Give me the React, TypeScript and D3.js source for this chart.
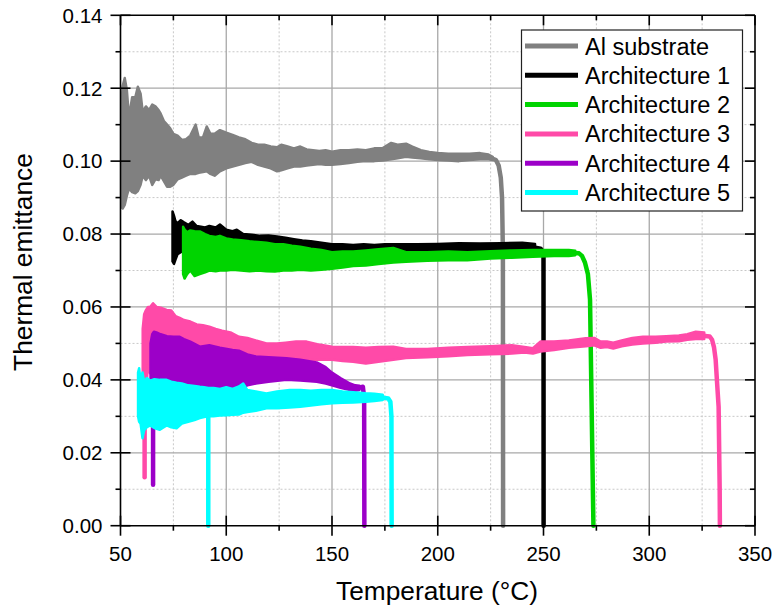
import React from "react";
import * as d3 from "d3";

// Noisy part of each measurement: [temperature °C, lower edge, upper edge]
const alSubstrateBand: [number, number, number][] = [
  [50.3, 0.0875, 0.114], [51.0, 0.087, 0.1205], [52.0, 0.088, 0.1228], [53.0, 0.0905, 0.1195],
  [54.0, 0.0925, 0.112], [55.5, 0.0915, 0.1175], [57.0, 0.0912, 0.1175], [58.2, 0.0918, 0.1204],
  [59.5, 0.0935, 0.1185], [60.5, 0.096, 0.1135], [62.0, 0.0948, 0.115], [63.5, 0.096, 0.114],
  [65.0, 0.0935, 0.1155], [66.5, 0.095, 0.115], [68.0, 0.0948, 0.114], [69.0, 0.096, 0.113],
  [70.5, 0.0945, 0.111], [72.0, 0.093, 0.11], [73.5, 0.093, 0.109], [75.0, 0.0935, 0.1075],
  [77.0, 0.095, 0.107], [79.0, 0.0955, 0.1058], [81.0, 0.096, 0.106], [83.0, 0.0965, 0.107],
  [85.5, 0.0965, 0.11], [87.0, 0.0968, 0.1065], [89.0, 0.097, 0.1065], [90.8, 0.0972, 0.1095],
  [92.5, 0.0965, 0.1075], [94.5, 0.096, 0.1075], [97.0, 0.0972, 0.1085], [100, 0.098, 0.1078],
  [103, 0.0985, 0.1072], [106, 0.099, 0.1065], [109, 0.0995, 0.106], [112, 0.0998, 0.105],
  [115, 0.099, 0.1045], [118, 0.0985, 0.1045], [121, 0.098, 0.104], [124, 0.0972, 0.1038],
  [126, 0.0975, 0.1045], [129, 0.098, 0.104], [132, 0.0985, 0.1035], [135, 0.0985, 0.104],
  [138, 0.0988, 0.1032], [141, 0.099, 0.103], [144, 0.0992, 0.1028], [147, 0.099, 0.103],
  [150, 0.099, 0.1026], [154, 0.0992, 0.103], [158, 0.0995, 0.103], [162, 0.0998, 0.1032],
  [166, 0.1, 0.103], [170, 0.1, 0.1035], [174, 0.1002, 0.1036], [178, 0.1005, 0.105],
  [181, 0.1008, 0.1045], [185, 0.1012, 0.1048], [188, 0.101, 0.104], [192, 0.1008, 0.103],
  [196, 0.1005, 0.1025], [200, 0.1003, 0.1022], [205, 0.1002, 0.102], [210, 0.1, 0.102],
  [215, 0.1003, 0.102], [220, 0.1005, 0.1022], [224, 0.1005, 0.1018], [226, 0.1003, 0.1012],
];
// Single-valued stretches: [temperature °C, emittance]
const alSubstrateDrop: [number, number][] = [
  [225.5, 0.1008], [227.5, 0.1003], [228.8, 0.0988], [229.8, 0.0955], [230.4, 0.09],
  [230.8, 0.075], [230.9, 0],
];

const architecture1Band: [number, number, number][] = [
  [74.6, 0.0725, 0.0862], [75.3, 0.0718, 0.085], [76.0, 0.073, 0.0835], [77.0, 0.0745, 0.083],
  [78.5, 0.075, 0.0838], [80, 0.0755, 0.0832], [82, 0.0755, 0.0825], [84, 0.0758, 0.0834],
  [86, 0.076, 0.0822], [88, 0.076, 0.082], [90, 0.0762, 0.0818], [92, 0.076, 0.0822],
  [95, 0.076, 0.0818], [97, 0.0762, 0.0826], [100, 0.076, 0.0812], [103, 0.076, 0.0808],
  [105, 0.076, 0.0812], [108, 0.076, 0.08], [112, 0.0758, 0.0798], [116, 0.0755, 0.0795],
  [120, 0.0752, 0.0796], [124, 0.0752, 0.0793], [128, 0.0752, 0.079], [132, 0.075, 0.0786],
  [136, 0.0748, 0.0782], [140, 0.0748, 0.078], [145, 0.0746, 0.0776], [150, 0.0745, 0.0772],
  [155, 0.0744, 0.0772], [160, 0.0743, 0.077], [165, 0.0745, 0.0772], [170, 0.0745, 0.077],
  [175, 0.0746, 0.0772], [180, 0.0748, 0.0772], [190, 0.0748, 0.0772], [200, 0.0749, 0.0773],
  [210, 0.075, 0.0775], [220, 0.075, 0.0774], [230, 0.0751, 0.0775], [240, 0.0752, 0.0776],
  [246, 0.0752, 0.0773],
];
const architecture1Drop: [number, number][] = [
  [245.5, 0.0763], [248.6, 0.076], [249.6, 0.0752], [250.0, 0.074], [250.05, 0],
];

const architecture2Band: [number, number, number][] = [
  [79.6, 0.069, 0.082], [80.3, 0.0678, 0.0812], [81.5, 0.069, 0.0805], [83, 0.07, 0.081],
  [85, 0.0685, 0.0808], [87.5, 0.069, 0.0807], [90, 0.0695, 0.08], [92, 0.07, 0.0795],
  [95, 0.0698, 0.0792], [97, 0.07, 0.0795], [100, 0.07, 0.0788], [103, 0.0702, 0.0785],
  [107, 0.07, 0.0783], [111, 0.0698, 0.078], [115, 0.07, 0.0778], [119, 0.0698, 0.0776],
  [123, 0.0697, 0.0772], [127, 0.07, 0.0772], [131, 0.07, 0.0768], [135, 0.0702, 0.0765],
  [140, 0.07, 0.076], [145, 0.0702, 0.0756], [150, 0.0705, 0.075], [155, 0.0708, 0.0752],
  [160, 0.0712, 0.0752], [166, 0.0714, 0.0755], [172, 0.0718, 0.0758], [179, 0.0722, 0.0762],
  [185, 0.0724, 0.075], [195, 0.0727, 0.075], [205, 0.0728, 0.0752], [214, 0.0728, 0.075],
  [225, 0.0733, 0.0753], [235, 0.0735, 0.0755], [245, 0.0738, 0.0756], [255, 0.074, 0.0756],
  [262, 0.074, 0.0756], [265, 0.0742, 0.0754],
];
const architecture2Drop: [number, number][] = [
  [264.5, 0.0748], [266.8, 0.0747], [268.2, 0.074], [269.6, 0.0722], [271, 0.069],
  [272, 0.062], [273.6, 0],
];

const architecture3Band: [number, number, number][] = [
  [60.5, 0.035, 0.054], [61.2, 0.035, 0.058], [61.9, 0.035, 0.059], [63.0, 0.044, 0.06],
  [64.0, 0.0418, 0.06], [65.4, 0.044, 0.061], [67, 0.045, 0.06], [69, 0.0452, 0.0598],
  [71.8, 0.0455, 0.0592], [74, 0.0458, 0.059], [76, 0.046, 0.0575], [78, 0.0462, 0.057],
  [80, 0.0462, 0.0564], [83, 0.0463, 0.056], [86, 0.0464, 0.0552], [89, 0.0465, 0.055],
  [92, 0.0466, 0.0546], [95, 0.0466, 0.054], [98, 0.0465, 0.0535], [102, 0.0465, 0.053],
  [106, 0.0464, 0.0518], [110, 0.0464, 0.0515], [114, 0.0462, 0.0508], [119, 0.0458, 0.05],
  [124, 0.0452, 0.05], [128, 0.045, 0.0502], [133, 0.0452, 0.0505], [138, 0.0455, 0.0505],
  [143, 0.0456, 0.0498], [150, 0.0455, 0.0491], [155, 0.0452, 0.049], [160, 0.045, 0.049],
  [166, 0.0445, 0.0488], [172, 0.045, 0.049], [179, 0.0455, 0.0491], [185, 0.046, 0.0485],
  [195, 0.0462, 0.0485], [205, 0.0465, 0.0488], [214, 0.0468, 0.049], [225, 0.047, 0.0492],
  [235, 0.0472, 0.0495], [241, 0.0475, 0.049], [245, 0.0472, 0.0487], [248.5, 0.0478, 0.0505],
  [255, 0.0482, 0.0505], [262, 0.0488, 0.0508], [270, 0.0492, 0.0514], [274, 0.0495, 0.0515],
  [277, 0.0488, 0.0505], [280, 0.049, 0.0505], [283, 0.0486, 0.0502], [287, 0.0492, 0.0508],
  [292, 0.0497, 0.0515], [297, 0.05, 0.0518], [303, 0.0502, 0.0518], [308, 0.0505, 0.052],
  [314, 0.0506, 0.0522], [318, 0.051, 0.0525], [322, 0.0512, 0.0532], [326, 0.0512, 0.053],
];
const architecture3Spike: [number, number][] = [[61.4, 0.034], [61.4, 0.0133]];
const architecture3Drop: [number, number][] = [
  [325.5, 0.0521], [328.6, 0.0519], [329.7, 0.051], [330.6, 0.049], [331.4, 0.0455],
  [332.2, 0.038], [332.8, 0.0326], [333.3, 0.01], [333.4, 0],
];

const architecture4Band: [number, number, number][] = [
  [64.2, 0.036, 0.05], [65.0, 0.036, 0.0525], [65.8, 0.037, 0.0532], [67, 0.0395, 0.053],
  [69, 0.04, 0.0525], [72, 0.0395, 0.052], [75, 0.0392, 0.0518], [78, 0.0388, 0.0518],
  [80, 0.0386, 0.0512], [83, 0.039, 0.0505], [87.5, 0.0385, 0.0491], [92, 0.0382, 0.0495],
  [97, 0.0378, 0.0488], [103, 0.0372, 0.0482], [106, 0.0375, 0.048], [110, 0.0385, 0.047],
  [114, 0.039, 0.0464], [120, 0.0395, 0.0462], [128.5, 0.04, 0.0459], [135, 0.0398, 0.0455],
  [142.8, 0.0395, 0.0448], [147, 0.039, 0.0435], [150, 0.0385, 0.042], [154, 0.0378, 0.0405],
  [158.5, 0.0372, 0.039], [161, 0.037, 0.0385], [163, 0.0372, 0.0384],
];
const architecture4Spike: [number, number][] = [[65.4, 0.038], [65.4, 0.0112]];
const architecture4Drop: [number, number][] = [
  [162.5, 0.0378], [164.6, 0.0381], [165.2, 0.035], [165.3, 0],
];

const architecture5Band: [number, number, number][] = [
  [58.3, 0.03, 0.042], [58.8, 0.0285, 0.0432], [59.5, 0.028, 0.04], [60.4, 0.024, 0.042],
  [61.2, 0.0262, 0.0395], [62.5, 0.027, 0.0405], [64, 0.0275, 0.0398], [66, 0.0268, 0.0402],
  [68.6, 0.0263, 0.04], [71.8, 0.0275, 0.04], [74, 0.027, 0.0395], [76.5, 0.0267, 0.0392],
  [79, 0.028, 0.039], [82, 0.0285, 0.0385], [85, 0.029, 0.0383], [87.5, 0.0295, 0.0381],
  [89.5, 0.0298, 0.038], [91.5, 0.03, 0.0378], [94, 0.03, 0.0378], [97, 0.0302, 0.0375],
  [100, 0.0303, 0.038], [103, 0.0304, 0.0375], [106, 0.0305, 0.0382], [108, 0.031, 0.039],
  [110, 0.0312, 0.0372], [114, 0.0315, 0.0368], [119, 0.0322, 0.0363], [124, 0.0322, 0.0368],
  [130, 0.0324, 0.0372], [135, 0.0326, 0.0372], [140, 0.033, 0.037], [145, 0.0333, 0.0372],
  [150, 0.0336, 0.0372], [155, 0.0337, 0.0368], [160, 0.0338, 0.0366], [166, 0.034, 0.0363],
  [170, 0.0342, 0.0362], [174, 0.0345, 0.0359],
];
const architecture5Spike: [number, number][] = [[91.5, 0.033], [91.5, 0]];
const architecture5Drop: [number, number][] = [
  [173.5, 0.0352], [176.6, 0.0349], [177.6, 0.034], [178.1, 0.03], [178.2, 0],
];

const seriesNames = ["Al substrate", "Architecture 1", "Architecture 2", "Architecture 3", "Architecture 4", "Architecture 5"];
const seriesBands = [alSubstrateBand, architecture1Band, architecture2Band, architecture3Band, architecture4Band, architecture5Band];
const seriesTraces = [
  [alSubstrateDrop],
  [architecture1Drop],
  [architecture2Drop],
  [architecture3Spike, architecture3Drop],
  [architecture4Spike, architecture4Drop],
  [architecture5Spike, architecture5Drop],
];
const seriesColors = ["#808080", "#000000", "#00d400", "#ff4aa8", "#9c00c8", "#00ffff"];

const xMajorTicks = [50, 100, 150, 200, 250, 300, 350];
const xMinorTicks = [75, 125, 175, 225, 275, 325];
const yMajorTicks = [0, 0.02, 0.04, 0.06, 0.08, 0.1, 0.12, 0.14];
const yMinorTicks = [0.01, 0.03, 0.05, 0.07, 0.09, 0.11, 0.13];

const W = 774;
const H = 610;
const left = 120.5, right = 755, top = 15.3, bottom = 525.7;
const font = "Arial, 'Liberation Sans', Helvetica, sans-serif";

export default function App() {
  const x = d3.scaleLinear().domain([50, 350]).range([left, right]);
  const y = d3.scaleLinear().domain([0, 0.14]).range([bottom, top]);

  const band = d3
    .area<[number, number, number]>()
    .x((d) => x(d[0]))
    .y0((d) => y(d[1]))
    .y1((d) => y(d[2]));
  const trace = d3
    .line<[number, number]>()
    .x((d) => x(d[0]))
    .y((d) => y(d[1]));

  const legendX = 521.5, legendY = 30, legendW = 221, legendH = 181;
  const rowH = 29.3;

  return (
    <svg
      width={W}
      height={H}
      style={{ position: "absolute", left: 0, top: 0, background: "#fff" }}
      fontFamily={font}
    >
      <rect x={0} y={0} width={W} height={H} fill="#fff" />
      <defs>
        <clipPath id="plotClip">
          <rect x={left} y={top} width={right - left} height={bottom - top + 3} />
        </clipPath>
      </defs>

      {/* minor grid */}
      {xMinorTicks.map((t) => (
        <line key={"xm" + t} x1={x(t)} x2={x(t)} y1={top} y2={bottom} stroke="#c8c8c8" strokeWidth={1} strokeDasharray="2,2" />
      ))}
      {yMinorTicks.map((t) => (
        <line key={"ym" + t} x1={left} x2={right} y1={y(t)} y2={y(t)} stroke="#c8c8c8" strokeWidth={1} strokeDasharray="2,2" />
      ))}
      {/* major grid */}
      {xMajorTicks.slice(1, -1).map((t) => (
        <line key={"xg" + t} x1={x(t)} x2={x(t)} y1={top} y2={bottom} stroke="#a8a8a8" strokeWidth={1.3} />
      ))}
      {yMajorTicks.slice(1, -1).map((t) => (
        <line key={"yg" + t} x1={left} x2={right} y1={y(t)} y2={y(t)} stroke="#a8a8a8" strokeWidth={1.3} />
      ))}

      {/* measured emittance curves */}
      <g clipPath="url(#plotClip)">
        {seriesBands.map((data, i) => (
          <g key={seriesNames[i]}>
            <path d={band(data) ?? ""} fill={seriesColors[i]} stroke={seriesColors[i]} strokeWidth={2.5} strokeLinejoin="round" />
            {seriesTraces[i].map((seg, j) => (
              <path key={j} d={trace(seg) ?? ""} fill="none" stroke={seriesColors[i]} strokeWidth={4.5} strokeLinejoin="round" strokeLinecap="round" />
            ))}
          </g>
        ))}
      </g>

      {/* axes frame */}
      <g stroke="#000" strokeWidth={1.6} fill="none">
        <line x1={left} x2={right} y1={bottom} y2={bottom} />
        <line x1={left} x2={right} y1={top} y2={top} />
        <line x1={left} x2={left} y1={top} y2={bottom} />
        <line x1={right} x2={right} y1={top} y2={bottom} />
        {xMajorTicks.map((t) => (
          <g key={"xt" + t}>
            <line x1={x(t)} x2={x(t)} y1={bottom - 10} y2={bottom + 10} />
            <line x1={x(t)} x2={x(t)} y1={top} y2={top + 10} />
          </g>
        ))}
        {xMinorTicks.map((t) => (
          <g key={"xmt" + t}>
            <line x1={x(t)} x2={x(t)} y1={bottom} y2={bottom + 5} />
            <line x1={x(t)} x2={x(t)} y1={top} y2={top + 5} />
          </g>
        ))}
        {yMajorTicks.map((t) => (
          <g key={"yt" + t}>
            <line x1={left - 10} x2={left + 10} y1={y(t)} y2={y(t)} />
            <line x1={right - 10} x2={right} y1={y(t)} y2={y(t)} />
          </g>
        ))}
        {yMinorTicks.map((t) => (
          <g key={"ymt" + t}>
            <line x1={left - 5} x2={left} y1={y(t)} y2={y(t)} />
            <line x1={right - 5} x2={right} y1={y(t)} y2={y(t)} />
          </g>
        ))}
      </g>

      {/* tick labels */}
      {xMajorTicks.map((t) => (
        <text key={"xl" + t} x={x(t)} y={561} textAnchor="middle" fontSize={20.5} fill="#000">
          {t}
        </text>
      ))}
      {yMajorTicks.map((t) => (
        <text key={"yl" + t} x={102.5} y={y(t) + 7.3} textAnchor="end" fontSize={20.5} fill="#000">
          {t.toFixed(2)}
        </text>
      ))}

      {/* axis titles */}
      <text x={437} y={600} textAnchor="middle" fontSize={26.3} fill="#000">
        Temperature (°C)
      </text>
      <text transform="translate(31.5,262) rotate(-90)" textAnchor="middle" fontSize={26.3} fill="#000">
        Thermal emittance
      </text>

      {/* legend */}
      <rect x={legendX} y={legendY} width={legendW} height={legendH} fill="#fff" stroke="#222" strokeWidth={1.2} />
      {seriesNames.map((name, i) => {
        const cy = 46 + i * rowH;
        return (
          <g key={"lg" + name}>
            <line x1={525} x2={578} y1={cy} y2={cy} stroke={seriesColors[i]} strokeWidth={5} />
            <text x={585} y={cy + 8.5} fontSize={23.5} fill="#000">
              {name}
            </text>
          </g>
        );
      })}
    </svg>
  );
}
